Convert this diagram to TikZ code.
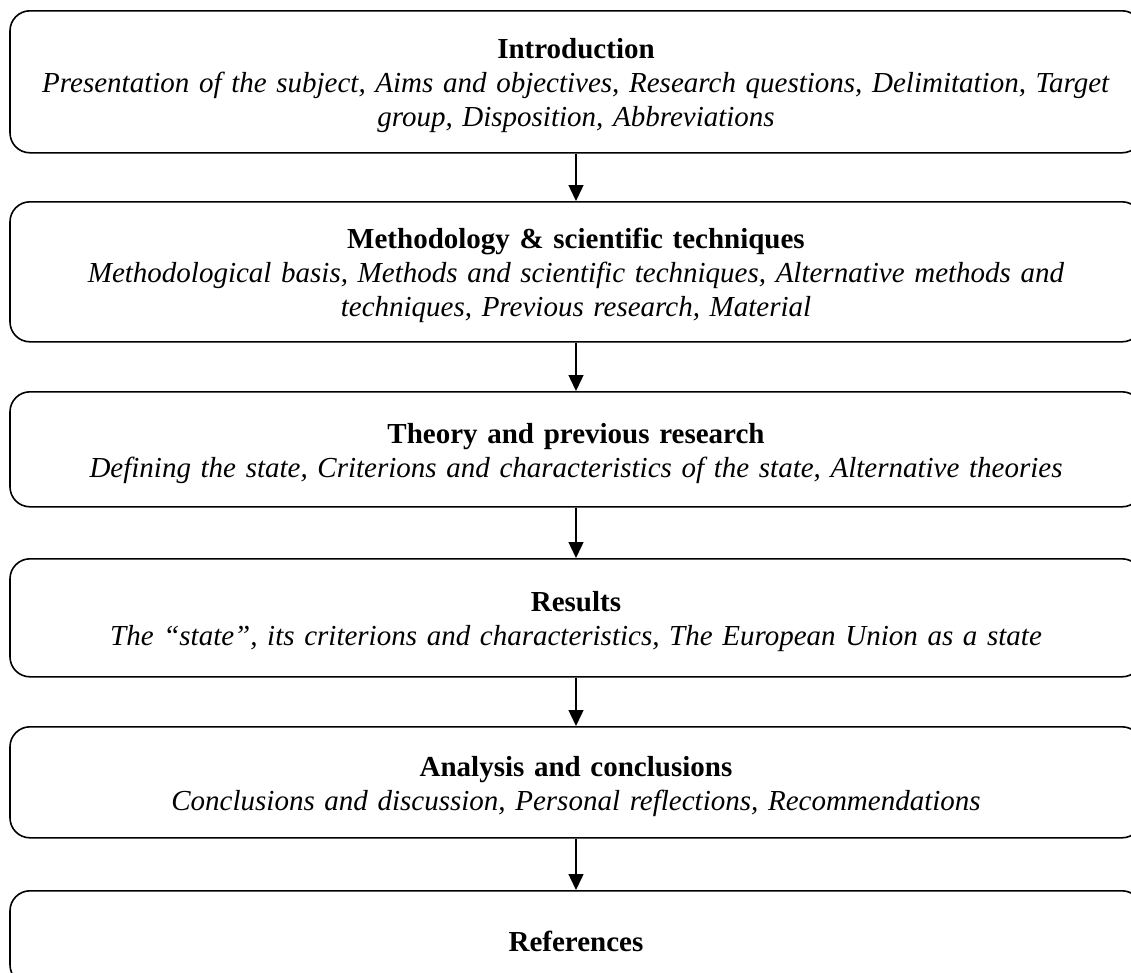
\documentclass[tikz,border=0pt]{standalone}
\usepackage{fontspec}
\setmainfont{Liberation Serif}
\usetikzlibrary{arrows.meta}

\newcommand{\stagetitle}[1]{\rule{0pt}{28pt}\textbf{#1}}

\tikzset{every picture/.style={line width=1.6pt}}
\tikzset{stage/.style={draw, rounded corners=20pt, anchor=north, minimum width=1132pt,
    text width=1100pt, align=center, inner sep=0pt, font=\fontsize{29}{34}\selectfont},
  flow/.style={-{Triangle[length=16pt,width=15pt]}, line width=1.4pt}}

\begin{document}
\begin{tikzpicture}[x=1pt,y=1pt,yscale=-1]
\useasboundingbox (0,0) rectangle (1131,972);

% Stage boxes
\node[stage, minimum height=142pt] (intro) at (576,10) {\stagetitle{Introduction}\\
  \textit{Presentation of the subject, Aims and objectives, Research questions, Delimitation, Target}\\
  \textit{group, Disposition, Abbreviations}};
\node[stage, minimum height=140pt] (method) at (576,201) {\stagetitle{Methodology \& scientific techniques}\\
  \textit{Methodological basis, Methods and scientific techniques, Alternative methods and}\\
  \textit{techniques, Previous research, Material}};
\node[stage, minimum height=115pt] (theory) at (576,391) {\stagetitle{Theory and previous research}\\
  \textit{Defining the state, Criterions and characteristics of the state, Alternative theories}};
\node[stage, minimum height=118pt] (results) at (576,558) {\stagetitle{Results}\\
  \textit{The “state”, its criterions and characteristics, The European Union as a state}};
\node[stage, minimum height=111pt] (analysis) at (576,726) {\stagetitle{Analysis and conclusions}\\
  \textit{Conclusions and discussion, Personal reflections, Recommendations}};
\node[stage, minimum height=94pt] (refs) at (576,890) {\stagetitle{References}};

% Arrows
\draw[flow] (intro) -- (method);
\draw[flow] (method) -- (theory);
\draw[flow] (theory) -- (results);
\draw[flow] (results) -- (analysis);
\draw[flow] (analysis) -- (refs);

\end{tikzpicture}
\end{document}
